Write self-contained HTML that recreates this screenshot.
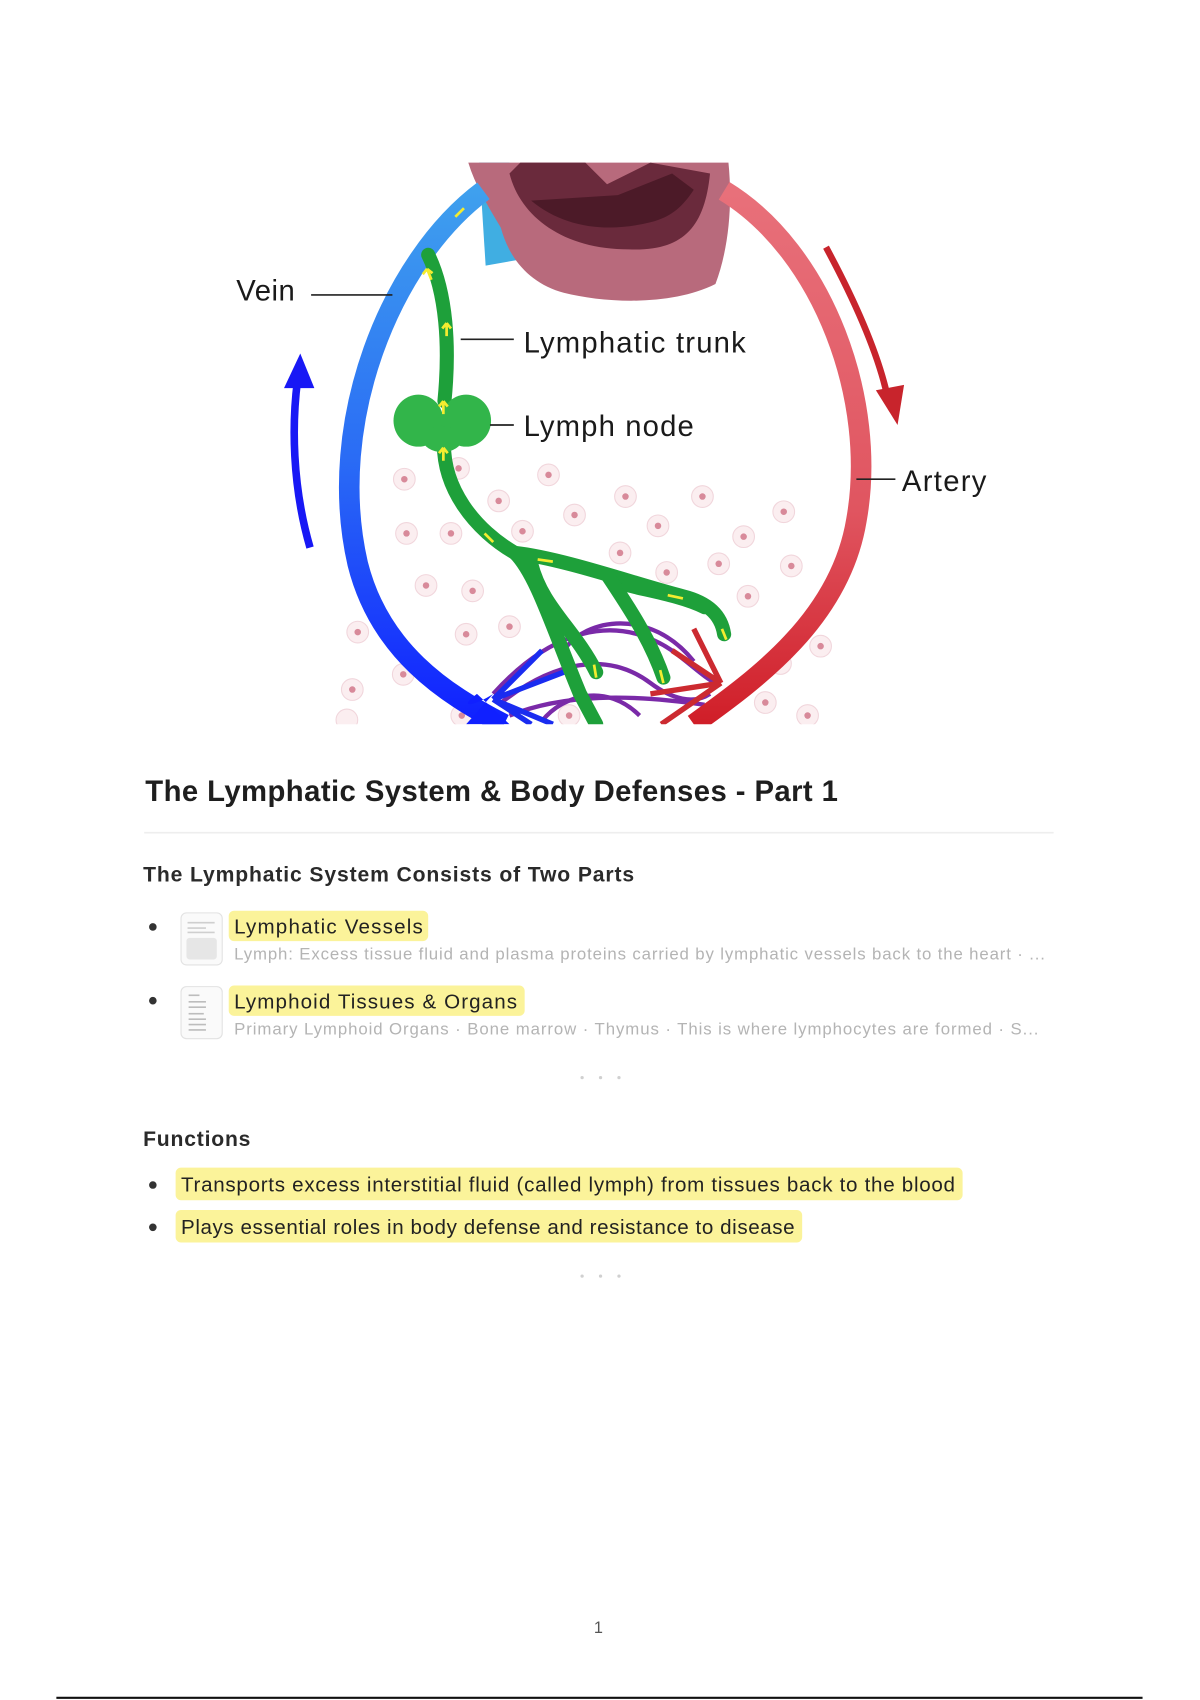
<!DOCTYPE html>
<html><head><meta charset="utf-8"><style>
html,body{margin:0;padding:0;background:#fff;}
svg{display:block;}
text{font-family:"Liberation Sans",sans-serif;}
</style></head><body>
<svg width="1200" height="1700" viewBox="0 0 1107 1568" preserveAspectRatio="none" xmlns="http://www.w3.org/2000/svg">
<defs>
<linearGradient id="vein" x1="0" y1="0" x2="0" y2="1">
<stop offset="0" stop-color="#3fa0ee"/><stop offset="0.5" stop-color="#2a6cf5"/><stop offset="1" stop-color="#1020ff"/>
</linearGradient>
<linearGradient id="art" x1="0" y1="0" x2="0" y2="1">
<stop offset="0" stop-color="#e8707a"/><stop offset="0.6" stop-color="#e05560"/><stop offset="1" stop-color="#d01e28"/>
</linearGradient>
<clipPath id="clip"><rect x="300" y="148" width="510" height="520"/></clipPath>
</defs>
<g clip-path="url(#clip)">
<g fill="#fbeef0" stroke="#f1d6dc" stroke-width="1">
<circle cx="373" cy="442" r="10"/><circle cx="423" cy="432" r="10"/><circle cx="506" cy="438" r="10"/><circle cx="460" cy="462" r="10"/><circle cx="530" cy="475" r="10"/><circle cx="577" cy="458" r="10"/><circle cx="648" cy="458" r="10"/><circle cx="723" cy="472" r="10"/><circle cx="607" cy="485" r="10"/><circle cx="686" cy="495" r="10"/><circle cx="375" cy="492" r="10"/><circle cx="416" cy="492" r="10"/><circle cx="482" cy="490" r="10"/><circle cx="572" cy="510" r="10"/><circle cx="663" cy="520" r="10"/><circle cx="730" cy="522" r="10"/><circle cx="393" cy="540" r="10"/><circle cx="436" cy="545" r="10"/><circle cx="615" cy="528" r="10"/><circle cx="690" cy="550" r="10"/><circle cx="330" cy="583" r="10"/><circle cx="430" cy="585" r="10"/><circle cx="470" cy="578" r="10"/><circle cx="757" cy="596" r="10"/><circle cx="372" cy="622" r="10"/><circle cx="325" cy="636" r="10"/><circle cx="720" cy="612" r="10"/><circle cx="706" cy="648" r="10"/><circle cx="745" cy="660" r="10"/><circle cx="426" cy="660" r="10"/><circle cx="320" cy="664" r="10"/><circle cx="525" cy="660" r="10"/>
</g>
<g fill="#d88a9a">
<circle cx="373" cy="442" r="3"/><circle cx="423" cy="432" r="3"/><circle cx="506" cy="438" r="3"/><circle cx="460" cy="462" r="3"/><circle cx="530" cy="475" r="3"/><circle cx="577" cy="458" r="3"/><circle cx="648" cy="458" r="3"/><circle cx="723" cy="472" r="3"/><circle cx="607" cy="485" r="3"/><circle cx="686" cy="495" r="3"/><circle cx="375" cy="492" r="3"/><circle cx="416" cy="492" r="3"/><circle cx="482" cy="490" r="3"/><circle cx="572" cy="510" r="3"/><circle cx="663" cy="520" r="3"/><circle cx="730" cy="522" r="3"/><circle cx="393" cy="540" r="3"/><circle cx="436" cy="545" r="3"/><circle cx="615" cy="528" r="3"/><circle cx="690" cy="550" r="3"/><circle cx="330" cy="583" r="3"/><circle cx="430" cy="585" r="3"/><circle cx="470" cy="578" r="3"/><circle cx="757" cy="596" r="3"/><circle cx="372" cy="622" r="3"/><circle cx="325" cy="636" r="3"/><circle cx="720" cy="612" r="3"/><circle cx="706" cy="648" r="3"/><circle cx="745" cy="660" r="3"/><circle cx="426" cy="660" r="3"/><circle cx="525" cy="660" r="3"/>
</g>
<g fill="none" stroke="#7a2aa8" stroke-width="4">
<path d="M455,640 C500,590 560,560 620,600 C640,615 650,625 660,630"/>
<path d="M460,650 C510,610 560,600 600,630 C620,645 640,650 655,640"/>
<path d="M470,660 C520,640 580,640 650,650"/>
<path d="M520,600 C540,570 600,560 640,610"/>
<path d="M500,665 C520,640 560,630 590,660"/>
</g>
<path d="M442,150 L470,150 L476,240 L448,245 Z" fill="#40aee2"/>
<path d="M432,150 L672,150 C676,190 672,230 660,262 C620,282 560,280 520,270 C490,262 470,240 462,210 C450,190 438,170 432,150 Z" fill="#b86a7c"/>
<path d="M470,160 C480,200 520,230 580,230 C630,232 650,210 655,160 L600,150 L560,170 L540,150 L480,150 Z" fill="#6a2a3c"/>
<path d="M490,185 C520,210 560,215 600,205 C620,200 630,190 640,175 L620,160 L570,180 Z" fill="#4c1a28"/>
<path d="M446,176 C360,240 300,390 330,520 C350,600 410,640 465,668" fill="none" stroke="url(#vein)" stroke-width="19"/>
<path d="M455,640 C440,650 420,655 440,640 L470,668 L430,668 Z" fill="#1020ff"/>
<path d="M455,645 L510,668 M455,645 L490,668 M455,645 L520,620 M455,645 L500,600" stroke="#1a2cf0" stroke-width="5" fill="none"/>
<path d="M668,176 C760,232 810,370 790,480 C775,570 700,625 640,668" fill="none" stroke="url(#art)" stroke-width="19"/>
<path d="M665,630 L620,600 M665,630 L600,640 M665,630 L610,668 M665,630 L640,580" stroke="#cc2a30" stroke-width="5" fill="none"/>
<g fill="none" stroke="#1ea03a" stroke-width="13" stroke-linecap="round">
<path d="M395,235 C412,270 415,320 410,370"/>
<path d="M410,400 C405,450 440,490 475,510 C495,530 510,580 535,640 L550,668"/>
<path d="M475,510 C520,515 590,540 630,550 C650,555 665,565 668,585"/>
<path d="M490,520 C500,560 530,580 550,620"/>
<path d="M560,530 C580,560 600,590 612,625"/>
<path d="M580,540 C600,545 630,550 650,560"/>
</g>
<ellipse cx="386" cy="388" rx="23" ry="24" fill="#32b54a"/>
<ellipse cx="430" cy="388" rx="23" ry="24" fill="#32b54a"/>
<ellipse cx="408" cy="405" rx="18" ry="12" fill="#32b54a"/>
<g stroke="#f4ec30" stroke-width="2.5" fill="none">
<path d="M398,258 l-4,-10 m0,0 l-4,5 m4,-5 l5,4"/>
<path d="M412,310 l0,-12 m0,0 l-4,5 m4,-5 l4,5"/>
<path d="M409,382 l0,-12 m0,0 l-4,5 m4,-5 l4,5"/>
<path d="M409,425 l0,-12 m0,0 l-4,5 m4,-5 l4,5"/>
<path d="M455,500 l-8,-8"/><path d="M510,518 l-14,-2"/><path d="M630,552 l-14,-3"/>
<path d="M550,625 l-2,-12"/><path d="M612,630 l-3,-12"/><path d="M670,590 l-4,-10"/>
<path d="M420,200 l8,-8"/>
</g>
</g>
<path d="M286,505 C270,450 268,390 276,340" fill="none" stroke="#1818f5" stroke-width="7"/>
<path d="M277,326 L262,358 L290,358 Z" fill="#1818f5"/>
<path d="M762,228 C790,280 812,330 820,372" fill="none" stroke="#c8242c" stroke-width="6"/>
<path d="M828,392 L808,360 L834,355 Z" fill="#c8242c"/>
<g stroke="#222" stroke-width="1.5">
<line x1="287" y1="272" x2="362" y2="272"/>
<line x1="425" y1="313" x2="474" y2="313"/>
<line x1="452" y1="392" x2="474" y2="392"/>
<line x1="790" y1="442" x2="826" y2="442"/>
</g>
<g font-size="27" fill="#1a1a1a">
<text x="218" y="277" textLength="54">Vein</text>
<text x="483" y="325" textLength="205">Lymphatic trunk</text>
<text x="483" y="402" textLength="157">Lymph node</text>
<text x="832" y="453" textLength="78">Artery</text>
</g>
<text x="134" y="739" font-size="27" font-weight="bold" fill="#1e1e1e" textLength="639">The Lymphatic System &amp; Body Defenses - Part 1</text>
<line x1="133" y1="768" x2="972" y2="768" stroke="#eeeeee" stroke-width="1.5"/>
<text x="132" y="813" font-size="19.5" font-weight="bold" fill="#2a2a2a" textLength="453">The Lymphatic System Consists of Two Parts</text>
<circle cx="141" cy="855" r="3.5" fill="#333"/>
<rect x="167" y="842" width="38" height="48" rx="5" fill="#fafafa" stroke="#e2e2e2"/>
<rect x="172" y="865" width="28" height="20" rx="3" fill="#e6e6e6"/>
<g stroke="#cfcfcf" stroke-width="1.5"><line x1="173" y1="851" x2="198" y2="851"/><line x1="173" y1="856" x2="190" y2="856"/><line x1="173" y1="860" x2="198" y2="860"/></g>
<rect x="211" y="840" width="184" height="28" rx="5" fill="#fbf39a"/>
<text x="216" y="861" font-size="19" fill="#222" textLength="174">Lymphatic Vessels</text>
<text x="216" y="885" font-size="15.5" fill="#b4b4b4" textLength="748">Lymph: Excess tissue fluid and plasma proteins carried by lymphatic vessels back to the heart · ...</text>
<circle cx="141" cy="923" r="3.5" fill="#333"/>
<rect x="167" y="910" width="38" height="48" rx="5" fill="#fafafa" stroke="#e2e2e2"/>
<g stroke="#bdbdbd" stroke-width="1.5"><line x1="174" y1="918" x2="184" y2="918"/><line x1="174" y1="924" x2="190" y2="924"/><line x1="174" y1="929" x2="190" y2="929"/><line x1="174" y1="935" x2="188" y2="935"/><line x1="174" y1="940" x2="190" y2="940"/><line x1="174" y1="945" x2="190" y2="945"/><line x1="174" y1="950" x2="190" y2="950"/></g>
<rect x="211" y="909" width="273" height="28" rx="5" fill="#fbf39a"/>
<text x="216" y="930" font-size="19" fill="#222" textLength="261">Lymphoid Tissues &amp; Organs</text>
<text x="216" y="954" font-size="15.5" fill="#b4b4b4" textLength="742">Primary Lymphoid Organs · Bone marrow · Thymus  · This is where lymphocytes are formed · S...</text>
<g fill="#d0d0d0"><circle cx="537" cy="994" r="1.5"/><circle cx="554" cy="994" r="1.5"/><circle cx="571" cy="994" r="1.5"/></g>
<text x="132" y="1057" font-size="19.5" font-weight="bold" fill="#2a2a2a" textLength="99">Functions</text>
<circle cx="141" cy="1093" r="3.5" fill="#333"/>
<rect x="162" y="1077" width="726" height="30" rx="5" fill="#fbf39a"/>
<text x="167" y="1099" font-size="19" fill="#222" textLength="714">Transports excess interstitial fluid (called lymph) from tissues back to the blood</text>
<circle cx="141" cy="1132" r="3.5" fill="#333"/>
<rect x="162" y="1116" width="578" height="30" rx="5" fill="#fbf39a"/>
<text x="167" y="1138" font-size="19" fill="#222" textLength="566">Plays essential roles in body defense and resistance to disease</text>
<g fill="#d0d0d0"><circle cx="537" cy="1177" r="1.5"/><circle cx="554" cy="1177" r="1.5"/><circle cx="571" cy="1177" r="1.5"/></g>
<text x="552" y="1506" font-size="15" fill="#555" text-anchor="middle">1</text>
<line x1="52" y1="1566" x2="1054" y2="1566" stroke="#111" stroke-width="2"/>
</svg>
</body></html>
